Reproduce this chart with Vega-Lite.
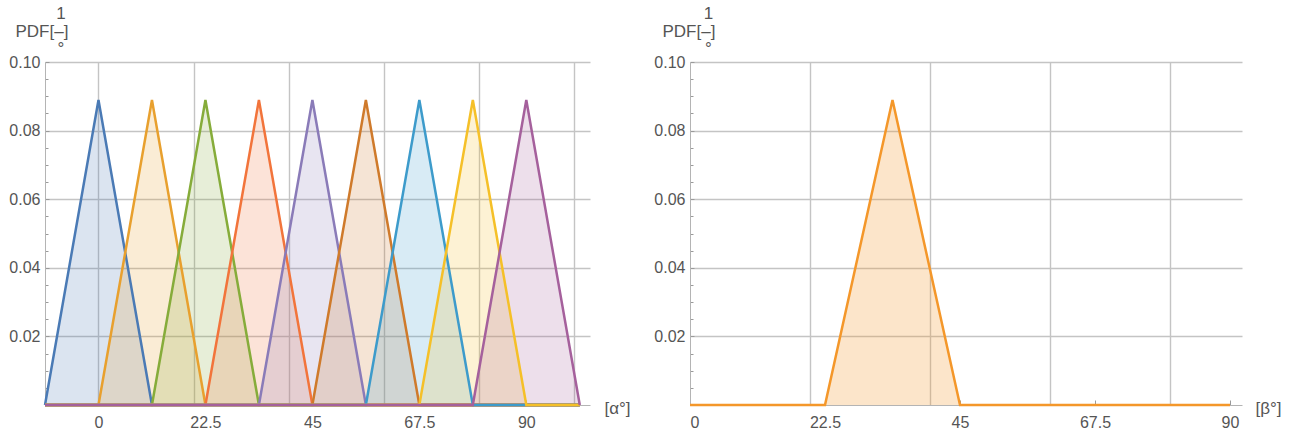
{
  "$schema": "https://vega.github.io/schema/vega-lite/v6.json",
  "background": "white",
  "padding": {"left": 8, "top": 4, "right": 5, "bottom": 5},
  "bounds": "flush",
  "spacing": 100,
  "config": {
    "view": {"stroke": null},
    "axis": {
      "labelFont": "Liberation Sans", "titleFont": "Liberation Sans",
      "labelColor": "#555555", "titleColor": "#555555",
      "labelFontSize": 16, "titleFontSize": 17, "titleFontWeight": "normal",
      "gridColor": "#c4c4c4", "gridWidth": 1.4,
      "domainColor": "#b4b4b4", "domainWidth": 1,
      "tickColor": "#9a9a9a", "tickWidth": 1
    }
  },
  "datasets": {
    "left": [
      {"s": 1, "x": -11.25, "y": 0}, {"s": 1, "x": 0, "y": 0.0889}, {"s": 1, "x": 11.25, "y": 0}, {"s": 1, "x": 101.25, "y": 0},
      {"s": 2, "x": -11.25, "y": 0}, {"s": 2, "x": 0, "y": 0}, {"s": 2, "x": 11.25, "y": 0.0889}, {"s": 2, "x": 22.5, "y": 0}, {"s": 2, "x": 101.25, "y": 0},
      {"s": 3, "x": -11.25, "y": 0}, {"s": 3, "x": 11.25, "y": 0}, {"s": 3, "x": 22.5, "y": 0.0889}, {"s": 3, "x": 33.75, "y": 0}, {"s": 3, "x": 101.25, "y": 0},
      {"s": 4, "x": -11.25, "y": 0}, {"s": 4, "x": 22.5, "y": 0}, {"s": 4, "x": 33.75, "y": 0.0889}, {"s": 4, "x": 45, "y": 0}, {"s": 4, "x": 101.25, "y": 0},
      {"s": 5, "x": -11.25, "y": 0}, {"s": 5, "x": 33.75, "y": 0}, {"s": 5, "x": 45, "y": 0.0889}, {"s": 5, "x": 56.25, "y": 0}, {"s": 5, "x": 101.25, "y": 0},
      {"s": 6, "x": -11.25, "y": 0}, {"s": 6, "x": 45, "y": 0}, {"s": 6, "x": 56.25, "y": 0.0889}, {"s": 6, "x": 67.5, "y": 0}, {"s": 6, "x": 101.25, "y": 0},
      {"s": 7, "x": -11.25, "y": 0}, {"s": 7, "x": 56.25, "y": 0}, {"s": 7, "x": 67.5, "y": 0.0889}, {"s": 7, "x": 78.75, "y": 0}, {"s": 7, "x": 101.25, "y": 0},
      {"s": 8, "x": -11.25, "y": 0}, {"s": 8, "x": 67.5, "y": 0}, {"s": 8, "x": 78.75, "y": 0.0889}, {"s": 8, "x": 90, "y": 0}, {"s": 8, "x": 101.25, "y": 0},
      {"s": 9, "x": -11.25, "y": 0}, {"s": 9, "x": 78.75, "y": 0}, {"s": 9, "x": 90, "y": 0.0889}, {"s": 9, "x": 101.25, "y": 0}
    ],
    "right": [
      {"s": 1, "x": 0, "y": 0}, {"s": 1, "x": 22.5, "y": 0}, {"s": 1, "x": 33.75, "y": 0.0889}, {"s": 1, "x": 45, "y": 0}, {"s": 1, "x": 90, "y": 0}
    ]
  },
  "hconcat": [
    {
      "width": 545, "height": 343,
      "data": {"name": "left"},
      "resolve": {"axis": {"x": "independent", "y": "independent"}},
      "layer": [
        {
          "mark": {"type": "area", "fillOpacity": 0.2},
          "encoding": {
            "x": {"field": "x", "type": "quantitative",
              "scale": {"domain": [-11.25, 103.4], "nice": false, "zero": false},
              "axis": {"orient": "bottom", "values": [0, 20, 40, 60, 80, 100], "grid": true, "labels": false, "ticks": false, "domain": false, "title": null}},
            "y": {"field": "y", "type": "quantitative", "stack": null,
              "scale": {"domain": [0, 0.1], "nice": false},
              "axis": {"orient": "left", "values": [0.005, 0.01, 0.015, 0.025, 0.03, 0.035, 0.045, 0.05, 0.055, 0.065, 0.07, 0.075, 0.085, 0.09, 0.095],
                "grid": false, "labels": false, "ticks": true, "tickSize": -3, "domain": false,
                "title": ["1", "°"], "titleAngle": 0, "titleAlign": "center", "titleBaseline": "top",
                "titleX": 15.5, "titleY": -57, "titleLineHeight": 35}},
            "color": {"field": "s", "type": "nominal", "legend": null,
              "scale": {"range": ["#4a7ab5", "#e8a02e", "#86ac3a", "#f2743b", "#8a7bb8", "#cf7a2b", "#3d9bcb", "#f5c028", "#a5609c"]}}
          }
        },
        {
          "mark": {"type": "line", "strokeWidth": 2.5},
          "encoding": {
            "x": {"field": "x", "type": "quantitative",
              "axis": {"orient": "bottom", "values": [0, 22.5, 45, 67.5, 90], "format": ".1~f", "grid": false, "labels": true, "ticks": true, "tickSize": -5, "labelPadding": 14, "domain": true,
                "title": "[α°]", "titleAlign": "left", "titleBaseline": "middle", "titleX": 559, "titleY": 3, "titleAngle": 0}},
            "y": {"field": "y", "type": "quantitative", "stack": null,
              "axis": {"orient": "left", "values": [0.02, 0.04, 0.06, 0.08, 0.1], "format": ".2f", "grid": true, "labels": true, "ticks": true, "tickSize": -4, "labelPadding": 9, "domain": true,
                "title": "PDF[–]", "titleAngle": 0, "titleAlign": "left", "titleBaseline": "alphabetic", "titleX": -30, "titleY": -26}},
            "color": {"field": "s", "type": "nominal", "legend": null}
          }
        }
      ]
    },
    {
      "width": 552, "height": 343,
      "data": {"name": "right"},
      "resolve": {"axis": {"x": "independent", "y": "independent"}},
      "layer": [
        {
          "mark": {"type": "area", "fillOpacity": 0.25, "color": "#f4972a"},
          "encoding": {
            "x": {"field": "x", "type": "quantitative",
              "scale": {"domain": [0, 92], "nice": false, "zero": false},
              "axis": {"orient": "bottom", "values": [20, 40, 60, 80], "grid": true, "labels": false, "ticks": false, "domain": false, "title": null}},
            "y": {"field": "y", "type": "quantitative", "stack": null,
              "scale": {"domain": [0, 0.1], "nice": false},
              "axis": {"orient": "left", "values": [0.005, 0.01, 0.015, 0.025, 0.03, 0.035, 0.045, 0.05, 0.055, 0.065, 0.07, 0.075, 0.085, 0.09, 0.095],
                "grid": false, "labels": false, "ticks": true, "tickSize": -3, "domain": false,
                "title": ["1", "°"], "titleAngle": 0, "titleAlign": "center", "titleBaseline": "top",
                "titleX": 18, "titleY": -57, "titleLineHeight": 35}}
          }
        },
        {
          "mark": {"type": "line", "strokeWidth": 2.5, "color": "#f4972a"},
          "encoding": {
            "x": {"field": "x", "type": "quantitative",
              "axis": {"orient": "bottom", "values": [0, 22.5, 45, 67.5, 90], "format": ".1~f", "grid": false, "labels": true, "ticks": true, "tickSize": -5, "labelPadding": 14, "domain": true,
                "title": "[β°]", "titleAlign": "left", "titleBaseline": "middle", "titleX": 565, "titleY": 3, "titleAngle": 0}},
            "y": {"field": "y", "type": "quantitative", "stack": null,
              "axis": {"orient": "left", "values": [0.02, 0.04, 0.06, 0.08, 0.1], "format": ".2f", "grid": true, "labels": true, "ticks": true, "tickSize": -4, "labelPadding": 9, "domain": true,
                "title": "PDF[–]", "titleAngle": 0, "titleAlign": "left", "titleBaseline": "alphabetic", "titleX": -28, "titleY": -26}}
          }
        }
      ]
    }
  ]
}
